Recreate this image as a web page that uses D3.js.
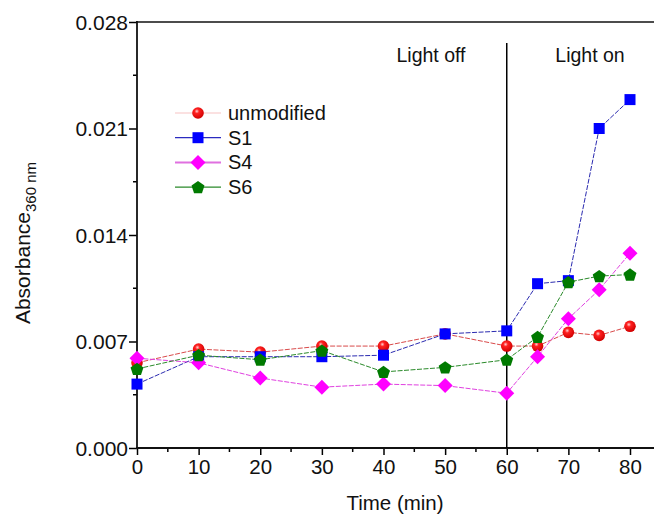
<!DOCTYPE html>
<html>
<head>
<meta charset="utf-8">
<script src="https://cdn.jsdelivr.net/npm/d3@7"></script>
<style>
  html, body { margin: 0; padding: 0; background: #fff; }
  svg { display: block; font-family: Arial, "Liberation Sans", sans-serif; }
</style>
</head>
<body>
<svg id="chart" width="654" height="515"></svg>
<script>
// Sampling times (min)
const times = [0, 10, 20, 30, 40, 50, 60, 65, 70, 75, 80];

// Absorbance at 360 nm for each sample
const unmodified = [0.0056, 0.0065, 0.0063, 0.0067, 0.0067, 0.0075, 0.0067, 0.0067, 0.0076, 0.0074, 0.0080];
const s1         = [0.0042, 0.0060, 0.0060, 0.0060, 0.0061, 0.0075, 0.0077, 0.0108, 0.0110, 0.0210, 0.0229];
const s4         = [0.0059, 0.0056, 0.0046, 0.0040, 0.0042, 0.0041, 0.0036, 0.0060, 0.0085, 0.0104, 0.0128];
const s6         = [0.0052, 0.0061, 0.0058, 0.0064, 0.0050, 0.0053, 0.0058, 0.0073, 0.0109, 0.0113, 0.0114];

const seriesNames = ["unmodified", "S1", "S4", "S6"];
const xTicks = [0, 10, 20, 30, 40, 50, 60, 70, 80];
const yTicks = [0.000, 0.007, 0.014, 0.021, 0.028];
const phaseLabels = ["Light off", "Light on"];

const FONT = "Arial, 'Liberation Sans', sans-serif";

const series = [
  { name: seriesNames[0], values: unmodified, fill: "#ff0000", line: "#d94a4a", legendLine: "#f7c4c4", shape: "circle" },
  { name: seriesNames[1], values: s1,         fill: "#0000ff", line: "#2b2bb0", legendLine: "#2b2bc0", shape: "square" },
  { name: seriesNames[2], values: s4,         fill: "#ff00ff", line: "#e040e0", legendLine: "#e070e0", shape: "diamond" },
  { name: seriesNames[3], values: s6,         fill: "#007a00", line: "#2a8a2a", legendLine: "#2a8a2a", shape: "pentagon" }
];

const svg = d3.select("#chart");
const defs = svg.append("defs");
const grad = defs.append("radialGradient").attr("id", "ball")
  .attr("cx", "0.4").attr("cy", "0.35").attr("r", "0.65");
grad.append("stop").attr("offset", "0").attr("stop-color", "#ffd0d0");
grad.append("stop").attr("offset", "0.3").attr("stop-color", "#ff2020");
grad.append("stop").attr("offset", "1").attr("stop-color", "#d00000");

const x = d3.scaleLinear().domain([0, 80]).range([137, 630]);
const y = d3.scaleLinear().domain([0, 0.028]).range([448, 22]);
const xEnd = 654;

// x axis (bottom) with outward ticks
const xAxis = svg.append("g").attr("transform", "translate(0,448)")
  .call(d3.axisBottom(x).tickValues(xTicks).tickFormat(d3.format("d")).tickSize(7).tickSizeOuter(0));
xAxis.select(".domain").remove();
xAxis.selectAll(".tick line").attr("stroke", "#000").attr("stroke-width", 1.5);
xAxis.selectAll(".tick text").attr("font-size", 20.5).attr("fill", "#111").attr("y", 10).attr("dy", "0.8em")
  .attr("font-family", FONT);
const xMinor = d3.range(5, 85, 10);
svg.append("g").selectAll("line").data(xMinor).join("line")
  .attr("x1", d => x(d)).attr("x2", d => x(d)).attr("y1", 448).attr("y2", 452)
  .attr("stroke", "#000").attr("stroke-width", 1.5);
svg.append("line").attr("x1", 136).attr("x2", xEnd).attr("y1", 448).attr("y2", 448)
  .attr("stroke", "#111").attr("stroke-width", 1.8);

// y axis (left) with outward ticks
const yAxis = svg.append("g").attr("transform", "translate(137,0)")
  .call(d3.axisLeft(y).tickValues(yTicks).tickFormat(d3.format(".3f")).tickSize(8).tickSizeOuter(0));
yAxis.select(".domain").remove();
yAxis.selectAll(".tick line").attr("stroke", "#000").attr("stroke-width", 1.5);
yAxis.selectAll(".tick text").attr("font-size", 21).attr("fill", "#111").attr("x", -9).attr("dy", "0.35em")
  .attr("font-family", FONT);
const yMinor = [0.0035, 0.0105, 0.0175, 0.0245];
svg.append("g").selectAll("line").data(yMinor).join("line")
  .attr("x1", 133).attr("x2", 137).attr("y1", d => y(d)).attr("y2", d => y(d))
  .attr("stroke", "#000").attr("stroke-width", 1.5);
svg.append("line").attr("x1", 137).attr("x2", 137).attr("y1", 21).attr("y2", 449)
  .attr("stroke", "#111").attr("stroke-width", 1.8);

// top frame line
svg.append("line").attr("x1", 136).attr("x2", xEnd).attr("y1", 22).attr("y2", 22)
  .attr("stroke", "#111").attr("stroke-width", 1.5);

// light switch marker at 60 min
svg.append("line").attr("x1", x(60)).attr("x2", x(60)).attr("y1", 43).attr("y2", 448)
  .attr("stroke", "#000").attr("stroke-width", 1.5);
svg.append("text").attr("x", 431).attr("y", 62).attr("text-anchor", "middle")
  .attr("font-size", 19.5).attr("fill", "#111").text(phaseLabels[0]);
svg.append("text").attr("x", 590).attr("y", 62).attr("text-anchor", "middle")
  .attr("font-size", 19.5).attr("fill", "#111").text(phaseLabels[1]);

// axis titles
svg.append("text").attr("x", 395).attr("y", 510).attr("text-anchor", "middle")
  .attr("font-size", 20.5).attr("fill", "#111").text("Time (min)");
const yl = svg.append("text").attr("transform", "translate(30,243) rotate(-90)")
  .attr("text-anchor", "middle").attr("font-size", 21).attr("fill", "#111");
yl.append("tspan").text("Absorbance");
yl.append("tspan").attr("font-size", 15).attr("dy", 6).text("360 nm");

// marker drawing
function drawMarker(g, shape, cx, cy, fill) {
  if (shape === "circle") {
    g.append("circle").attr("cx", cx).attr("cy", cy).attr("r", 5.8).attr("fill", "url(#ball)");
  } else if (shape === "square") {
    g.append("rect").attr("x", cx - 5.5).attr("y", cy - 5.5).attr("width", 11).attr("height", 11).attr("fill", fill);
  } else if (shape === "diamond") {
    const r = 7.5;
    g.append("path").attr("d", `M${cx},${cy - r}L${cx + r},${cy}L${cx},${cy + r}L${cx - r},${cy}Z`).attr("fill", fill);
  } else {
    const r = 6.8;
    const pts = d3.range(5).map(i => {
      const a = -Math.PI / 2 + i * 2 * Math.PI / 5;
      return [cx + r * Math.cos(a), cy + r * Math.sin(a) + 0.6];
    });
    g.append("path").attr("d", "M" + pts.map(p => p.join(",")).join("L") + "Z").attr("fill", fill);
  }
}

const line = d3.line().x(d => x(d[0])).y(d => y(d[1]));
const plot = svg.append("g");
series.forEach(s => {
  const pts = times.map((t, i) => [t, s.values[i]]);
  plot.append("path").datum(pts).attr("d", line).attr("fill", "none")
    .attr("stroke", s.line).attr("stroke-width", 1).attr("stroke-dasharray", "5,1.5");
});
series.forEach(s => {
  const g = plot.append("g");
  times.forEach((t, i) => drawMarker(g, s.shape, x(t), y(s.values[i]), s.fill));
});

// legend
const legend = svg.append("g");
series.forEach((s, i) => {
  const ly = 113 + i * 24.7;
  legend.append("line").attr("x1", 175).attr("x2", 221).attr("y1", ly).attr("y2", ly)
    .attr("stroke", s.legendLine).attr("stroke-width", s.shape === "diamond" ? 2 : 1.2);
  drawMarker(legend, s.shape, 198, ly, s.fill);
  legend.append("text").attr("x", 228).attr("y", ly + 7).attr("font-size", 20).attr("fill", "#111").text(s.name);
});
</script>
</body>
</html>
